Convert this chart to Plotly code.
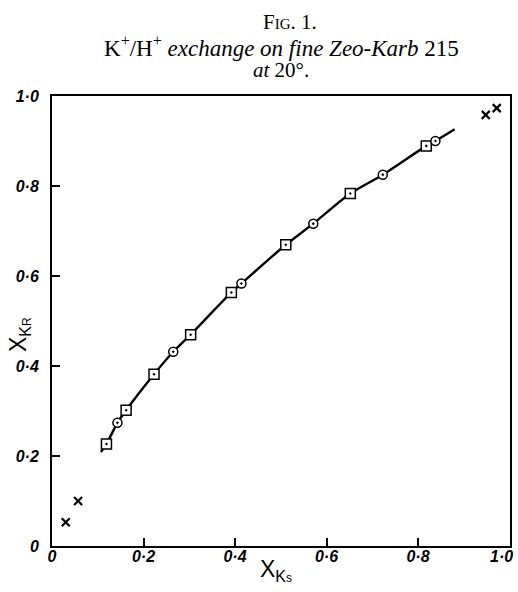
import plotly.graph_objects as go

# Data
square_x = [0.119, 0.162, 0.223, 0.303, 0.392, 0.511, 0.652, 0.818]
square_y = [0.227, 0.302, 0.382, 0.470, 0.564, 0.670, 0.784, 0.890]
circle_x = [0.143, 0.265, 0.414, 0.571, 0.723, 0.838]
circle_y = [0.274, 0.432, 0.584, 0.717, 0.826, 0.901]
cross_x = [0.030, 0.057, 0.948, 0.972]
cross_y = [0.053, 0.100, 0.959, 0.974]
curve_x = [0.107, 0.119, 0.143, 0.162, 0.223, 0.265, 0.303, 0.392, 0.414,
           0.511, 0.571, 0.652, 0.723, 0.818, 0.838, 0.880]
curve_y = [0.209, 0.227, 0.274, 0.302, 0.382, 0.432, 0.470, 0.564, 0.584,
           0.670, 0.717, 0.784, 0.826, 0.890, 0.901, 0.927]
tick_vals = [0, 0.2, 0.4, 0.6, 0.8, 1.0]
tick_text = ["0", "0·2", "0·4", "0·6", "0·8", "1·0"]
x_tick_text = ["0", "0·2", "0·4", "0·6", "0·8", "1·0\u2002\u2002"]

fig = go.Figure()
fig.add_trace(go.Scatter(x=curve_x, y=curve_y, mode="lines",
                         line=dict(color="black", width=2.4, shape="spline", smoothing=0.8),
                         hoverinfo="skip"))
fig.add_trace(go.Scatter(x=square_x, y=square_y, mode="markers",
                         marker=dict(symbol="square-dot", size=10, color="white",
                                     line=dict(color="black", width=1.5))))
fig.add_trace(go.Scatter(x=circle_x, y=circle_y, mode="markers",
                         marker=dict(symbol="circle-dot", size=9, color="white",
                                     line=dict(color="black", width=1.5))))
fig.add_trace(go.Scatter(x=cross_x, y=cross_y, mode="markers",
                         marker=dict(symbol="x-thin", size=8, color="black",
                                     line=dict(color="black", width=2.2))))

tickfont = dict(family="Liberation Sans", size=16, color="black", style="italic", weight="bold")
fig.update_xaxes(range=[0, 1.001], tickvals=tick_vals, ticktext=x_tick_text,
                 ticks="inside", ticklen=8, tickwidth=1.5, tickcolor="black",
                 showline=True, linewidth=2, linecolor="black", mirror=True,
                 showgrid=False, zeroline=False, tickfont=tickfont, automargin=False,
                 ticklabelstandoff=-5, ticklabeloverflow="allow")
fig.update_yaxes(range=[0, 1.001], tickvals=tick_vals, ticktext=tick_text,
                 ticks="inside", ticklen=8, tickwidth=1.5, tickcolor="black",
                 showline=True, linewidth=2, linecolor="black", mirror=True,
                 showgrid=False, zeroline=False, tickfont=tickfont, automargin=False,
                 ticklabelstandoff=8, ticklabeloverflow="allow")

serif = "Liberation Serif"
fig.update_layout(
    width=518, height=592,
    margin=dict(l=52, r=8, t=96, b=46),
    paper_bgcolor="white", plot_bgcolor="white",
    showlegend=False,
    annotations=[
        dict(text="Fig. 1.", x=0.52, y=1.165, xref="paper", yref="paper", showarrow=False,
             yanchor="middle",
             font=dict(family=serif, size=21, color="black", variant="small-caps")),
        dict(text="K<sup>+</sup>/H<sup>+</sup> <i>exchange on fine Zeo-Karb</i> 215",
             x=0.5, y=1.111, xref="paper", yref="paper", showarrow=False, yanchor="middle",
             font=dict(family=serif, size=23, color="black")),
        dict(text="<i>at</i> 20°.",
             x=0.5, y=1.057, xref="paper", yref="paper", showarrow=False, yanchor="middle",
             font=dict(family=serif, size=21, color="black")),
        dict(text="X<sub>K<span style='font-size:12px'>s</span></sub>", x=0.49, y=-0.055,
             xref="paper", yref="paper", showarrow=False, yanchor="middle",
             font=dict(family="Liberation Sans", size=23, color="black")),
        dict(text="X<sub>K<span style='font-size:12px'>R</span></sub>", x=-0.035, y=0.47,
             xref="paper", yref="paper", showarrow=False, textangle=-90,
             xanchor="right", yanchor="middle",
             font=dict(family="Liberation Sans", size=23, color="black")),
    ],
)
fig.write_html("out.html", config={"displayModeBar": False},
               post_script="document.body.style.margin='0';document.body.style.overflow='hidden';")
